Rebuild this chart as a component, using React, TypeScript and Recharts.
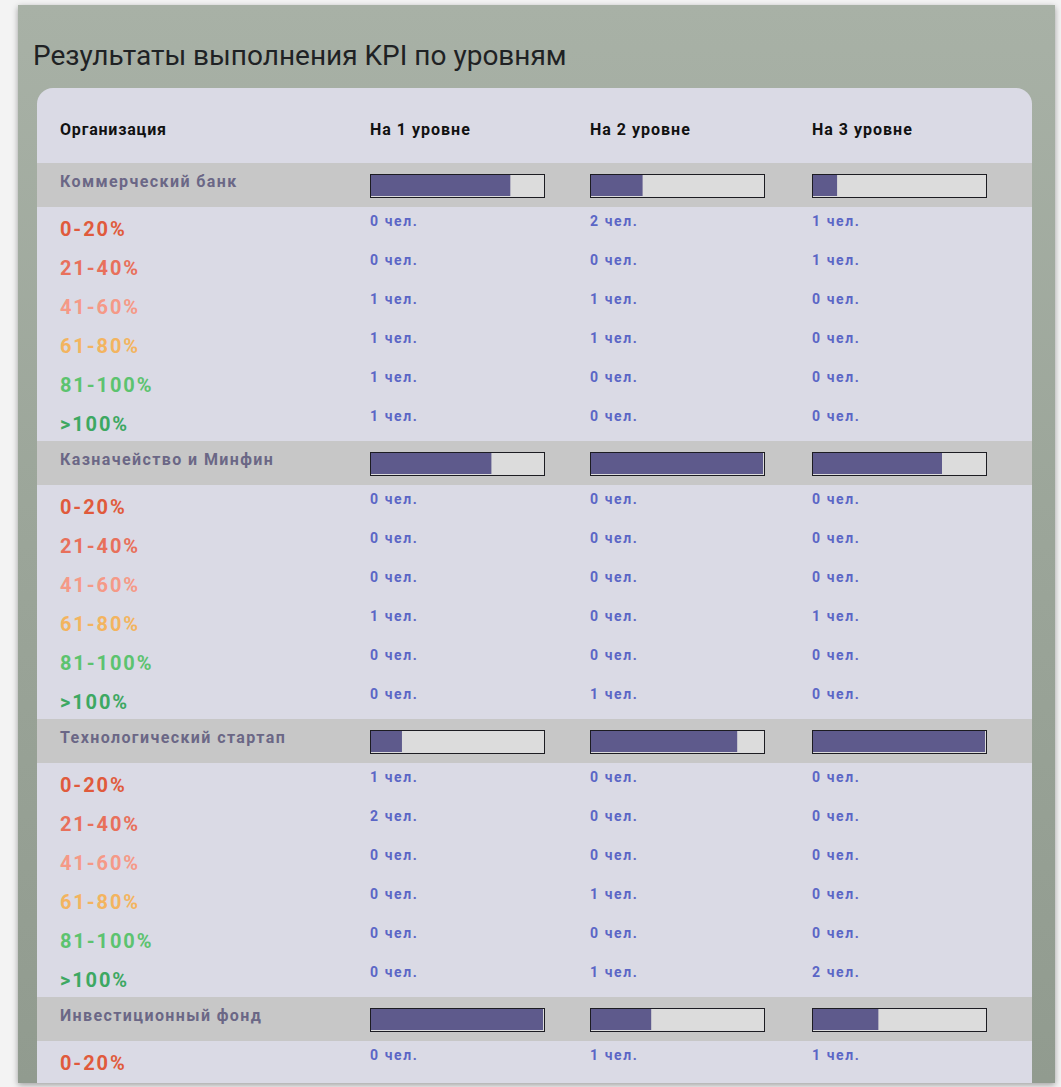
import React from 'react'
import { BarChart, Bar, XAxis, YAxis } from 'recharts'

const title = 'Результаты выполнения KPI по уровням'
const orgHeader = 'Организация'
const levels = ['На 1 уровне', 'На 2 уровне', 'На 3 уровне']
const ranges = ['0-20%', '21-40%', '41-60%', '61-80%', '81-100%', '>100%']
const rangeColors = ['#e05a3c', '#e8705b', '#f59987', '#f3b45f', '#5cc36f', '#3da862']

const organizations = ['Коммерческий банк', 'Казначейство и Минфин', 'Технологический стартап', 'Инвестиционный фонд']

// completion per level, %
const bankProgress = [81, 30, 14]
const treasuryProgress = [70, 100, 75]
const startupProgress = [18, 85, 100]
const fundProgress = [100, 35, 38]

// people per range (rows) and level (columns)
const bankCounts = [[0, 2, 1], [0, 0, 1], [1, 1, 0], [1, 1, 0], [1, 0, 0], [1, 0, 0]]
const treasuryCounts = [[0, 0, 0], [0, 0, 0], [0, 0, 0], [1, 0, 1], [0, 0, 0], [0, 1, 0]]
const startupCounts = [[1, 0, 0], [2, 0, 0], [0, 0, 0], [0, 1, 0], [0, 0, 0], [0, 1, 2]]
const fundCounts = [[0, 1, 1]]

const progressByOrg = [bankProgress, treasuryProgress, startupProgress, fundProgress]
const countsByOrg = [bankCounts, treasuryCounts, startupCounts, fundCounts]

const FONT = 'Roboto, "Noto Sans", sans-serif'
const COLS = [333, 553, 775] // x of level columns inside the card
const BAND_H = 44
const ROW_H = 39
const SECTION_H = BAND_H + ROW_H * 6

function ProgressBar({ value, label }: { value: number; label: string }) {
  return (
    <div style={{ width: 175, height: 24, border: '1.5px solid #1c1c22', boxSizing: 'border-box', background: '#dcdcdc' }}>
      <BarChart
        width={172}
        height={21}
        layout="vertical"
        data={[{ name: label, value }]}
        margin={{ top: 0, right: 0, bottom: 0, left: 0 }}
        barCategoryGap={0}
      >
        <XAxis type="number" domain={[0, 100]} hide />
        <YAxis type="category" dataKey="name" hide />
        <Bar dataKey="value" fill="#5e5a8c" background={{ fill: '#dcdcdc' }} isAnimationActive={false} />
      </BarChart>
    </div>
  )
}

export default function App() {
  return (
    <div style={{ position: 'relative', width: 1061, height: 1087, background: '#f3f3f3', overflow: 'hidden', fontFamily: FONT }}>
      <style>{'body{margin:0}'}</style>
      <div
        style={{
          position: 'absolute',
          left: 18,
          top: 5,
          width: 1037,
          height: 1078,
          background: 'linear-gradient(180deg, #a8b1a6 0%, #9ba599 50%, #919b8f 100%)',
          boxShadow: '0 2px 6px rgba(0,0,0,0.35)',
          overflow: 'hidden',
        }}
      >
        <div style={{ position: 'absolute', left: 15, top: 35, fontSize: 28, lineHeight: '32px', color: '#1f2224', fontWeight: 400 }}>{title}</div>
        <div
          style={{
            position: 'absolute',
            left: 19,
            top: 83,
            width: 995,
            height: 1100,
            background: '#dadae5',
            borderRadius: '16px 16px 0 0',
            overflow: 'hidden',
          }}
        >
          <div style={{ position: 'absolute', left: 23, top: 32, fontSize: 16, fontWeight: 700, color: '#111', letterSpacing: 0.8 }}>
            {orgHeader}
          </div>
          {levels.map((lv, i) => (
            <div key={lv} style={{ position: 'absolute', left: COLS[i], top: 32, fontSize: 16, fontWeight: 700, color: '#111', letterSpacing: 1 }}>
              {lv}
            </div>
          ))}
          {organizations.map((org, oi) => {
            const top = 75 + oi * SECTION_H
            return (
              <React.Fragment key={org}>
                <div style={{ position: 'absolute', left: 0, top, width: 995, height: BAND_H, background: '#c7c7c7' }} />
                <div style={{ position: 'absolute', left: 23, top: top + 9, fontSize: 16, fontWeight: 700, color: '#6b6786', letterSpacing: 1.4 }}>
                  {org}
                </div>
                {progressByOrg[oi].map((v, li) => (
                  <div key={li} style={{ position: 'absolute', left: COLS[li], top: top + 11 }}>
                    <ProgressBar value={v} label={levels[li]} />
                  </div>
                ))}
                {countsByOrg[oi].map((row, ri) => {
                  const rt = top + BAND_H + ri * ROW_H
                  return (
                    <React.Fragment key={ri}>
                      <div
                        style={{
                          position: 'absolute',
                          left: 23,
                          top: rt + 10,
                          fontSize: 20,
                          lineHeight: '24px',
                          fontWeight: 700,
                          color: rangeColors[ri],
                          letterSpacing: 1.9,
                        }}
                      >
                        {ranges[ri]}
                      </div>
                      {row.map((c, li) => (
                        <div
                          key={li}
                          style={{ position: 'absolute', left: COLS[li], top: rt + 6, fontSize: 14, lineHeight: '17px', fontWeight: 700, color: '#5b66c6', letterSpacing: 1.6 }}
                        >
                          {c} чел.
                        </div>
                      ))}
                    </React.Fragment>
                  )
                })}
              </React.Fragment>
            )
          })}
        </div>
      </div>
    </div>
  )
}
